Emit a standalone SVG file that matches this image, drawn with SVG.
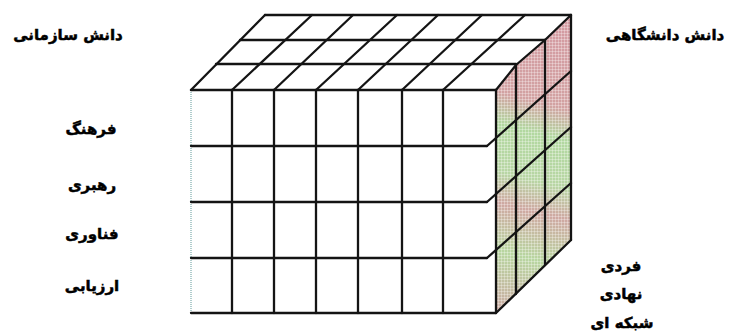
<svg xmlns="http://www.w3.org/2000/svg" width="732" height="333" viewBox="0 0 732 333">
<defs>
<linearGradient id="sideGrad" gradientUnits="userSpaceOnUse" x1="571" y1="15" x2="496" y2="313">
<stop offset="0" stop-color="#d49aa2"/>
<stop offset="0.3" stop-color="#d2a2a2"/>
<stop offset="0.4" stop-color="#b2d8a0"/>
<stop offset="0.55" stop-color="#b8d6a4"/>
<stop offset="0.65" stop-color="#cfa8a2"/>
<stop offset="0.8" stop-color="#b8d6a0"/>
<stop offset="1" stop-color="#cca8a2"/>
</linearGradient>
<pattern id="screen" width="3" height="3" patternUnits="userSpaceOnUse">
<path d="M0 0.5H3M0.5 0V3" stroke="#ffffff" stroke-opacity="0.3" stroke-width="1"/>
</pattern>
</defs>
<style>
.ln{stroke:#141414;stroke-width:2.3;fill:none;stroke-linecap:round;stroke-linejoin:round}
.edge{stroke:#8fb8b8;stroke-width:1.4;fill:none;stroke-dasharray:1 1}
.lbl{font-family:'DejaVu Sans',sans-serif;font-weight:bold;font-size:15px;fill:#000;stroke:#000;stroke-width:0.5;text-anchor:middle}
</style>
<rect width="732" height="333" fill="#ffffff"/>
<g id="side-face">
<polygon points="496,90 516,65 545,40 571,15 571,240 496,313" fill="url(#sideGrad)"/>
<polygon points="496,90 516,65 545,40 571,15 571,240 496,313" fill="url(#screen)"/>
</g>
<g id="grid-lines">
<g id="front-face">
<path class="edge" d="M191 90V313"/>
<path class="ln" d="M191 90H496M191 146H487M191 202H487M191 258H487M191 313H496"/>
<path class="ln" d="M232 90V313M274 90V313M316 90V313M358 90V313M402 90V313M443 90V313M496 90V313"/>
</g>
<g id="top-face">
<path class="ln" d="M265 15H571M240 40H545M216 64H516"/>
<path class="ln" d="M191 90L265 15M232 90L312 15M274 90L353 15M316 90L397 15M358 90L438 15M402 90L482 15M443 90L525 15M496 90L516 65L545 40L571 15"/>
</g>
<g id="side-lines">
<path class="ln" d="M487 146L571 71M487 202L571 127M487 258L571 183M496 313L571 240"/>
<path class="ln" d="M516 65V294M545 40V265M571 15V240"/>
</g>
</g>
<g id="label-org"><text class="lbl" x="68" y="40">دانش سازمانی</text></g>
<g id="label-uni"><text class="lbl" x="665" y="40">دانش دانشگاهی</text></g>
<g id="label-culture"><text class="lbl" x="91" y="134">فرهنگ</text></g>
<g id="label-leadership"><text class="lbl" x="92" y="190">رهبری</text></g>
<g id="label-technology"><text class="lbl" x="92" y="239">فناوری</text></g>
<g id="label-evaluation"><text class="lbl" x="92" y="291">ارزیابی</text></g>
<g id="label-individual"><text class="lbl" x="621" y="271">فردی</text></g>
<g id="label-institutional"><text class="lbl" x="621" y="299">نهادی</text></g>
<g id="label-network"><text class="lbl" x="622" y="328">شبکه ای</text></g>
</svg>
